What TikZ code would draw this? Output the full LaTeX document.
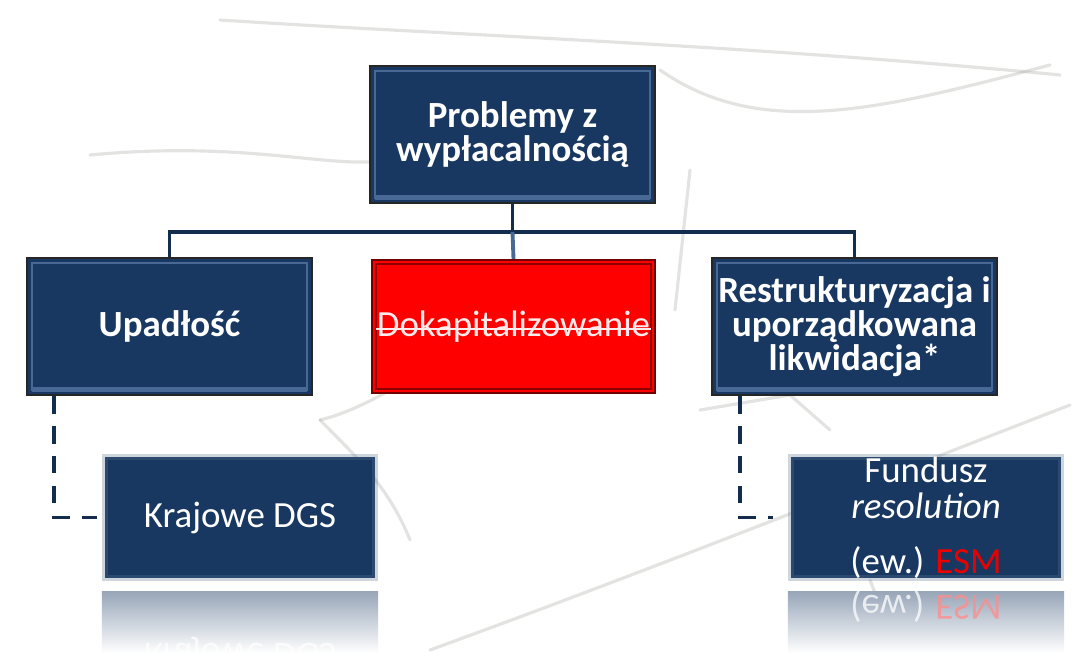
\documentclass[tikz,border=0pt]{standalone}
\usepackage{fontspec}
\setmainfont{Carlito}
\usetikzlibrary{positioning}
\definecolor{navy}{RGB}{24,56,98}
\definecolor{bevel}{RGB}{72,104,150}
\definecolor{sketch}{RGB}{165,165,158}
\begin{document}
\begin{tikzpicture}[
    topbox/.style={fill=navy, draw=black!85, line width=0.6pt, minimum width=2.85cm,
      minimum height=1.37cm, text=white, align=center, inner sep=0pt,
      font=\bfseries\fontsize{10.5}{9.6}\selectfont},
    redbox/.style={fill=red, draw=red!45!black, line width=0.6pt, minimum width=2.83cm,
      minimum height=1.33cm, inner sep=0pt},
    lowbox/.style={fill=navy, draw=navy!70!white, draw opacity=0.3, line width=1.8pt,
      minimum width=2.70cm, minimum height=1.21cm, text=white, align=center, inner sep=0pt,
      font=\fontsize{10.5}{9.6}\selectfont},
    lowtext/.style={text=white, font=\fontsize{10.5}{9.6}\selectfont, anchor=base, inner sep=0pt},
    mirror/.style={yscale=-1, transform shape, text=white, text opacity=0.75,
      font=\fontsize{10.5}{9.6}\selectfont, anchor=base, inner sep=0pt},
    link/.style={navy!80!black, line width=1.1pt},
    guide/.style={navy!80!black, line width=1.1pt, dash pattern=on 5pt off 3.5pt}
  ]

  \useasboundingbox[fill=white] (0,0) rectangle (10.72,-6.56);

  % Faint pencil strokes of the background sketch
  \begin{scope}[sketch, line width=0.9pt, opacity=0.3, line cap=round]
    \draw (0.9,-1.55) .. controls (2.5,-1.4) and (3.3,-1.7) .. (3.9,-1.6);
    \draw (2.2,-0.2) .. controls (4.5,-0.35) and (7.5,-0.45) .. (10.6,-0.75);
    \draw (6.6,-0.7) .. controls (7.6,-1.4) and (8.8,-1.1) .. (10.5,-0.65);
    \draw (6.9,-1.7) -- (6.75,-3.1);
    \draw (4.3,-6.5) .. controls (6.5,-5.7) and (8.5,-4.9) .. (10.7,-4.05);
    \draw (7.0,-4.1) -- (7.9,-3.95) -- (8.3,-4.3);
    \draw (3.2,-4.2) .. controls (3.6,-4.6) and (3.9,-4.9) .. (4.1,-5.4);
    \draw (8.7,-5.8) -- (8.95,-6.45);
    \draw (4.6,-3.5) .. controls (3.9,-3.9) and (3.6,-4.1) .. (3.2,-4.2);
  \end{scope}

  % Top level
  \node[topbox] (top) at (5.125,-1.345) {Problemy z\\wypłacalnością};

  % Second level
  \node[topbox] (upad) at (1.695,-3.265) {Upadłość};
  \node[redbox] (dokap) at (5.135,-3.265) {};
  \node[topbox] (restr) at (8.545,-3.265) {Restrukturyzacja i\\uporządkowana\\likwidacja*};

  % Bevel of the boxes
  \foreach \n in {top,upad,restr} {
    \draw[bevel, line width=0.5pt] ([shift={(0.06,0.06)}]\n.south west) rectangle ([shift={(-0.06,-0.06)}]\n.north east);
    \draw[bevel, line width=1.4pt] ([shift={(0.06,0.07)}]\n.south west) -- ([shift={(-0.06,0.07)}]\n.south east);
  }
  \draw[red!55!black, line width=0.8pt] ([shift={(0.05,0.05)}]dokap.south west) rectangle ([shift={(-0.05,-0.05)}]dokap.north east);

  % Struck-out label
  \node[lowtext, text=white!92!red] (dokapt) at (5.135,-3.37) {Dokapitalizowanie};
  \draw[white!92!red, line width=0.7pt] ([yshift=0.08cm]dokapt.base west) -- ([yshift=0.08cm]dokapt.base east);

  % Tree connectors
  \coordinate (fork) at (5.125,-2.32);
  \draw[link] (top.south) -- (fork);
  \draw[link] (fork) -| (upad.north);
  \draw[link] (fork) -| (restr.north);
  \draw[bevel, line width=1.1pt] (fork) -- (dokap.north);

  % Third level with reflections
  \node[lowbox] (dgs) at (2.40,-5.175) {Krajowe DGS};
  \node[lowbox] (fund) at (9.26,-5.175) {};
  \node[lowtext] (fund1) at (9.26,-4.82) {Fundusz};
  \node[lowtext] (fund2) at (9.26,-5.18) {\itshape resolution};
  \node[lowtext] (fund3) at (9.26,-5.73) {(ew.) \textcolor[RGB]{235,0,0}{ESM}};

  \shade[top color=navy!45!white, bottom color=white] ([yshift=-0.10cm]dgs.south west) rectangle ([yshift=-0.72cm]dgs.south east);
  \shade[top color=navy!45!white, bottom color=white] ([yshift=-0.10cm]fund.south west) rectangle ([yshift=-0.72cm]fund.south east);
  \begin{scope}
    \clip (0,0) rectangle (10.72,-6.56);
    \node[mirror] (dgsm) at (2.40,-6.43) {Krajowe DGS};
    \node[mirror] (fundm) at (9.26,-5.95) {(ew.) \textcolor{red!45!white}{ESM}};
  \end{scope}

  % Dashed guides to the funds
  \coordinate (g1) at ([xshift=0.28cm]upad.south west);
  \coordinate (g2) at ([xshift=0.29cm]restr.south west);
  \draw[guide] (g1) |- ([xshift=-0.05cm]dgs.west);
  \draw[guide] (g2) |- ([xshift=-0.15cm]fund.west);

\end{tikzpicture}
\end{document}
